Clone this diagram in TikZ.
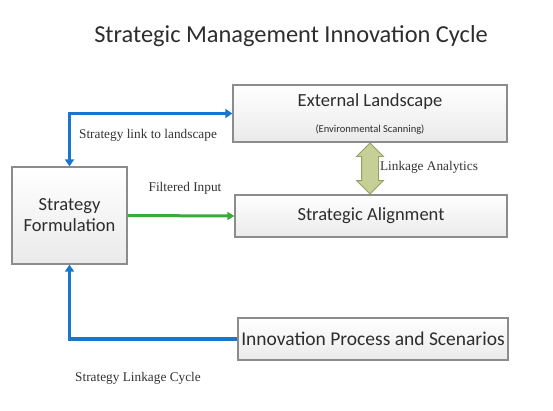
\documentclass[tikz,border=0pt]{standalone}
\usepackage{fontspec}
\setmainfont{Carlito}
\newfontfamily\labelfont{Liberation Serif}
\usetikzlibrary{arrows.meta,shapes.arrows}

\definecolor{linkblue}{RGB}{24,118,204}
\definecolor{inputgreen}{RGB}{58,170,60}
\definecolor{boxgray}{RGB}{140,140,140}
\definecolor{boxfill}{RGB}{234,234,234}
\definecolor{boxtext}{RGB}{45,45,45}
\definecolor{lbltext}{RGB}{50,50,50}
\definecolor{khaki}{RGB}{198,208,150}
\definecolor{khakiline}{RGB}{150,160,100}

\begin{document}
\begin{tikzpicture}[
  x=1pt, y=-1pt,
  box/.style={rectangle, draw=boxgray, line width=1.3pt, top color=white, bottom color=boxfill, text=boxtext, align=center, inner sep=0pt, font=\fontsize{18.5}{21}\selectfont},
  arrow/.style={-{Triangle[length=7pt,width=9pt]}, line width=3.5pt, linkblue},
  greenarrow/.style={-{Triangle[length=7pt,width=8pt]}, line width=3pt, inputgreen},
  lbl/.style={font=\labelfont\fontsize{13.3}{15}\selectfont, text=lbltext}
]
\useasboundingbox (0,0) rectangle (553,410);

% Title
\node[font=\fontsize{24.4}{28}\selectfont, text=boxtext] (title) at (291,36) {Strategic Management Innovation Cycle};

% Nodes
\node[box, minimum width=274pt, minimum height=57pt] (ext) at (370,113.5) {External Landscape\\[5pt]{\fontsize{10.5}{12}\selectfont(Environmental Scanning)}};
\node[box, minimum width=272pt, minimum height=42pt] (align) at (371,216) {Strategic Alignment};
\node[box, minimum width=115pt, minimum height=97pt] (form) at (69.5,215.5) {Strategy\\Formulation};
\node[box, minimum width=270pt, minimum height=42pt, font=\fontsize{19.5}{22}\selectfont] (innov) at (373,339) {Innovation Process and Scenarios};
\node[double arrow, rotate=90, fill=khaki, draw=khakiline, line width=0.8pt, minimum height=51pt, double arrow head extend=5pt, double arrow head indent=0pt, inner sep=0pt] (link) at (370,168.5) {\rule{0pt}{16pt}};

% Labels
\node[lbl] (linklbl) at (148,135) {Strategy link to landscape};
\node[lbl] (inputlbl) at (185,188) {Filtered Input};
\node[lbl] (analyticslbl) at (429,167) {Linkage Analytics};
\node[lbl] (cyclelbl) at (138,378) {Strategy Linkage Cycle};

% Arrows
\draw[arrow, {Triangle[length=7pt,width=9pt]}-{Triangle[length=7pt,width=9pt]}] (form.north) |- (ext.west);
\draw[greenarrow] (form.east) -- (align.west);
\draw[arrow] (innov.west) -| (form.south);

\end{tikzpicture}
\end{document}
